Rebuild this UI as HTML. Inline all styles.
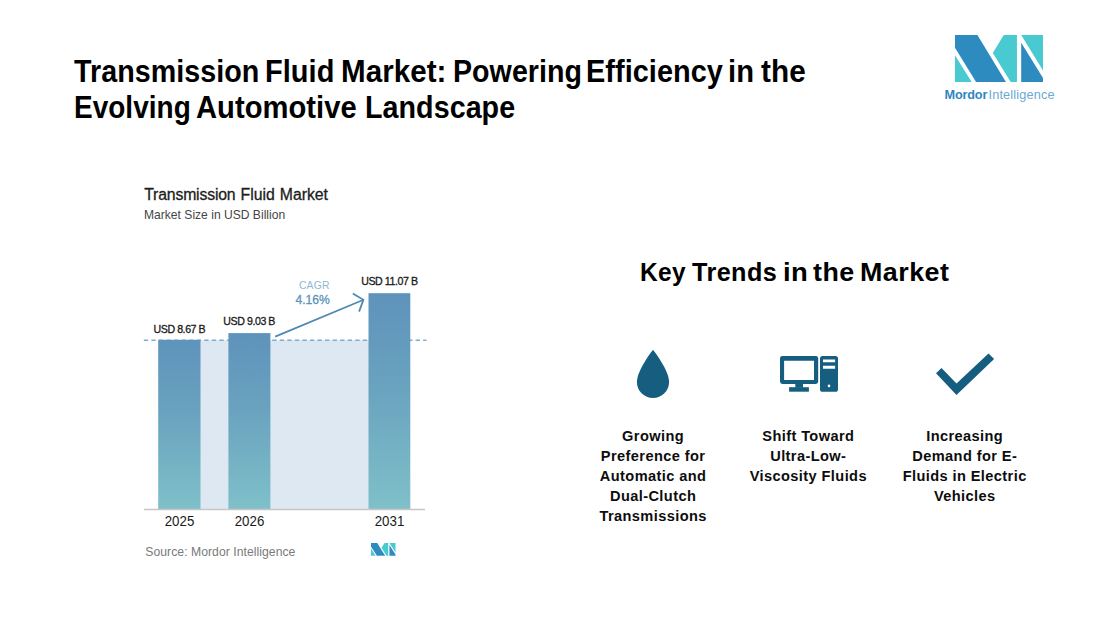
<!DOCTYPE html>
<html>
<head>
<meta charset="utf-8">
<title>Transmission Fluid Market</title>
<style>
html,body{margin:0;padding:0;background:#ffffff;}
body{width:1105px;height:625px;position:relative;overflow:hidden;font-family:"Liberation Sans",sans-serif;color:#000;}
.abs{position:absolute;white-space:nowrap;}
.title{font-size:28.4px;font-weight:bold;line-height:36px;letter-spacing:0.04px;color:#000;transform-origin:0 27.84px;}
.ct{word-spacing:0.6px;left:144.2px;top:186px;font-size:15.8px;line-height:18px;color:#1c1c1c;-webkit-text-stroke:0.3px #1c1c1c;}
.cs{left:144px;top:207.5px;font-size:12.1px;line-height:15px;color:#454545;}
.val{font-size:10.6px;line-height:12px;color:#1a1a1a;text-align:center;letter-spacing:-0.43px;-webkit-text-stroke:0.3px #1a1a1a;transform-origin:50% 9.95px;transform:scaleY(1.05);}
.yr{font-size:13.3px;line-height:15px;color:#1a1a1a;text-align:center;transform-origin:50% 12.1px;transform:scaleY(1.085);}
.kt{top:258.2px;font-size:24px;font-weight:bold;line-height:30px;letter-spacing:0.4px;color:#000;transform-origin:0 22.6px;}
.col{position:absolute;width:170px;text-align:center;font-size:14.6px;font-weight:bold;line-height:20px;letter-spacing:0.4px;color:#0d0d0d;top:425.8px;}
.ln{height:20px;transform-origin:50% 15.06px;transform:scaleY(1.065);}
</style>
</head>
<body>

<!-- main heading -->
<div class="abs title" style="top:53.9px;left:73.5px;transform:scale(1.01,1.1);">Transmission</div>
<div class="abs title" style="top:53.9px;left:264.7px;transform:scale(1.02,1.1);">Fluid</div>
<div class="abs title" style="top:53.9px;left:340.6px;transform:scale(1.041,1.1);">Market:</div>
<div class="abs title" style="top:53.9px;left:452.5px;transform:scale(1.007,1.1);">Powering</div>
<div class="abs title" style="top:53.9px;left:586.4px;transform:scale(1.018,1.1);">Efficiency</div>
<div class="abs title" style="top:53.9px;left:728.3px;transform:scale(1.027,1.1);">in</div>
<div class="abs title" style="top:53.9px;left:761px;transform:scale(1.048,1.1);">the</div>
<div class="abs title" style="top:90px;left:74.3px;transform:scale(0.984,1.1);">Evolving</div>
<div class="abs title" style="top:90px;left:195.7px;transform:scale(1.027,1.1);">Automotive</div>
<div class="abs title" style="top:90px;left:364.7px;transform:scale(1.01,1.1);">Landscape</div>

<!-- brand logo top-right -->
<svg class="abs" style="left:955px;top:34.7px;" width="88.1" height="47.1" viewBox="0 0 885 473">
  <polygon points="0,0 225,0 512,473 212,473 0,128" fill="#2e8bc0"/>
  <polygon points="0,203 168,473 0,473" fill="#48cad0"/>
  <polygon points="490,0 622,0 622,473 560,473 380,181" fill="#48cad0"/>
  <polygon points="665,0 885,0 885,358" fill="#48cad0"/>
  <polygon points="665,78 885,433 885,473 665,473" fill="#2e8bc0"/>
</svg>
<div class="abs" style="left:944.5px;top:87.8px;font-size:12.7px;line-height:15px;"><span style="font-weight:bold;color:#2e86c1;letter-spacing:-0.17px;">Mordor</span><span style="color:#6aa9d4;margin-left:1.3px;letter-spacing:0.17px;">Intelligence</span></div>

<!-- chart -->
<div class="abs ct"><span style="letter-spacing:-0.17px;">Transmission</span> Fluid Market</div>
<div class="abs cs">Market Size in USD Billion</div>

<svg class="abs" style="left:0;top:0;" width="1105" height="625" viewBox="0 0 1105 625">
  <defs>
    <linearGradient id="bg" x1="0" y1="0" x2="0" y2="1">
      <stop offset="0" stop-color="#5e93bb"/>
      <stop offset="0.45" stop-color="#6aa3bf"/>
      <stop offset="1" stop-color="#7fc0c9"/>
    </linearGradient>
  </defs>
  <rect x="199" y="340.2" width="171" height="168.8" fill="#dee8f2"/>
  <line x1="143.8" y1="340.2" x2="426.5" y2="340.2" stroke="#7faecd" stroke-width="1.5" stroke-dasharray="4.4,3.15"/>
  <rect x="158.2" y="339.8" width="42.3" height="169.2" fill="url(#bg)"/>
  <rect x="228.4" y="333.1" width="42" height="175.9" fill="url(#bg)"/>
  <rect x="368.5" y="293.2" width="41.8" height="215.8" fill="url(#bg)"/>
</svg>

<svg class="abs" style="left:0;top:0;" width="1105" height="625" viewBox="0 0 1105 625">
  <line x1="144" y1="509.5" x2="425" y2="509.5" stroke="#c6c6c6" stroke-width="1.5"/>
  <g fill="none" stroke="#4f8ab4" stroke-width="1.8" stroke-linecap="butt" stroke-linejoin="miter">
    <line x1="275.2" y1="336.7" x2="363" y2="300"/>
    <polyline points="352.8,293.5 363.4,299.8 359.1,311.6"/>
  </g>
  <!-- drop -->
  <path d="M653,349.7 C653,349.7 669.1,370 669.1,382 A16.1,16.1 0 0 1 636.9,382 C636.9,370 653,349.7 653,349.7 Z" fill="#165e80"/>
  <!-- computer -->
  <g fill="#165e80">
    <path fill-rule="evenodd" d="M782.4,356 H815.8 A2.4,2.4 0 0 1 818.2,358.4 V381.6 A2.4,2.4 0 0 1 815.8,384 H782.4 A2.4,2.4 0 0 1 780,381.6 V358.4 A2.4,2.4 0 0 1 782.4,356 Z M784.1,360.7 V380 H814 V360.7 Z"/>
    <rect x="795.3" y="383.5" width="7.7" height="4.2"/>
    <rect x="789.1" y="387.2" width="19.8" height="4.5"/>
    <path fill-rule="evenodd" d="M822.6,356 H835.4 A2.6,2.6 0 0 1 838,358.6 V389.2 A2.6,2.6 0 0 1 835.4,391.8 H822.6 A2.6,2.6 0 0 1 820,389.2 V358.6 A2.6,2.6 0 0 1 822.6,356 Z M823,359.5 V362.3 H835.1 V359.5 Z M823,365.8 V368.8 H835.1 V365.8 Z M830.3,385.9 A1.3,1.3 0 1 0 827.7,385.9 A1.3,1.3 0 1 0 830.3,385.9 Z"/>
  </g>
  <!-- check -->
  <polygon points="936,373.3 941.5,367.9 956.5,383.5 988.5,353.4 994.1,358.9 956.5,395" fill="#165e80"/>
</svg>

<div class="abs val" style="left:149.4px;top:322.5px;width:60px;">USD 8.67 B</div>
<div class="abs val" style="left:219.2px;top:315.4px;width:60px;">USD 9.03 B</div>
<div class="abs val" style="left:359.4px;top:275.3px;width:60px;">USD 11.07 B</div>

<div class="abs" style="left:294.3px;top:280px;width:40px;text-align:center;font-size:10.4px;line-height:12px;letter-spacing:0.2px;color:#8fb8d3;">CAGR</div>
<div class="abs" style="left:292.7px;top:293.2px;width:40px;text-align:center;font-size:12.1px;line-height:15px;color:#5b93bc;-webkit-text-stroke:0.3px #5b93bc;">4.16%</div>

<div class="abs yr" style="left:159px;top:513.6px;width:41px;">2025</div>
<div class="abs yr" style="left:229px;top:513.6px;width:41px;">2026</div>
<div class="abs yr" style="left:369px;top:513.6px;width:41px;">2031</div>

<div class="abs" style="left:145.3px;top:545.1px;font-size:12.2px;line-height:15px;letter-spacing:0.04px;color:#7a7a7a;">Source: Mordor Intelligence</div>
<svg class="abs" style="left:371.1px;top:543px;" width="24.5" height="12.7" viewBox="0 0 885 473" preserveAspectRatio="none">
  <polygon points="0,0 225,0 512,473 212,473 0,128" fill="#2e8bc0"/>
  <polygon points="0,203 168,473 0,473" fill="#48cad0"/>
  <polygon points="490,0 622,0 622,473 560,473 380,181" fill="#48cad0"/>
  <polygon points="665,0 885,0 885,358" fill="#48cad0"/>
  <polygon points="665,78 885,433 885,473 665,473" fill="#2e8bc0"/>
</svg>

<!-- key trends -->
<div class="abs kt" style="left:640.1px;transform:scale(1.02,1.065);">Key</div>
<div class="abs kt" style="left:692px;transform:scale(1.05,1.065);">Trends</div>
<div class="abs kt" style="left:782.7px;transform:scale(1.144,1.065);">in</div>
<div class="abs kt" style="left:813px;transform:scale(1.119,1.065);">the</div>
<div class="abs kt" style="left:859.8px;transform:scale(1.12,1.065);">Market</div>

<div class="col" style="left:568.1px;"><div class="ln">Growing</div><div class="ln">Preference for</div><div class="ln">Automatic and</div><div class="ln">Dual-Clutch</div><div class="ln">Transmissions</div></div>
<div class="col" style="left:723.3px;"><div class="ln">Shift Toward</div><div class="ln">Ultra-Low-</div><div class="ln">Viscosity Fluids</div></div>
<div class="col" style="left:879.7px;"><div class="ln">Increasing</div><div class="ln">Demand for E-</div><div class="ln">Fluids in Electric</div><div class="ln">Vehicles</div></div>

</body>
</html>
